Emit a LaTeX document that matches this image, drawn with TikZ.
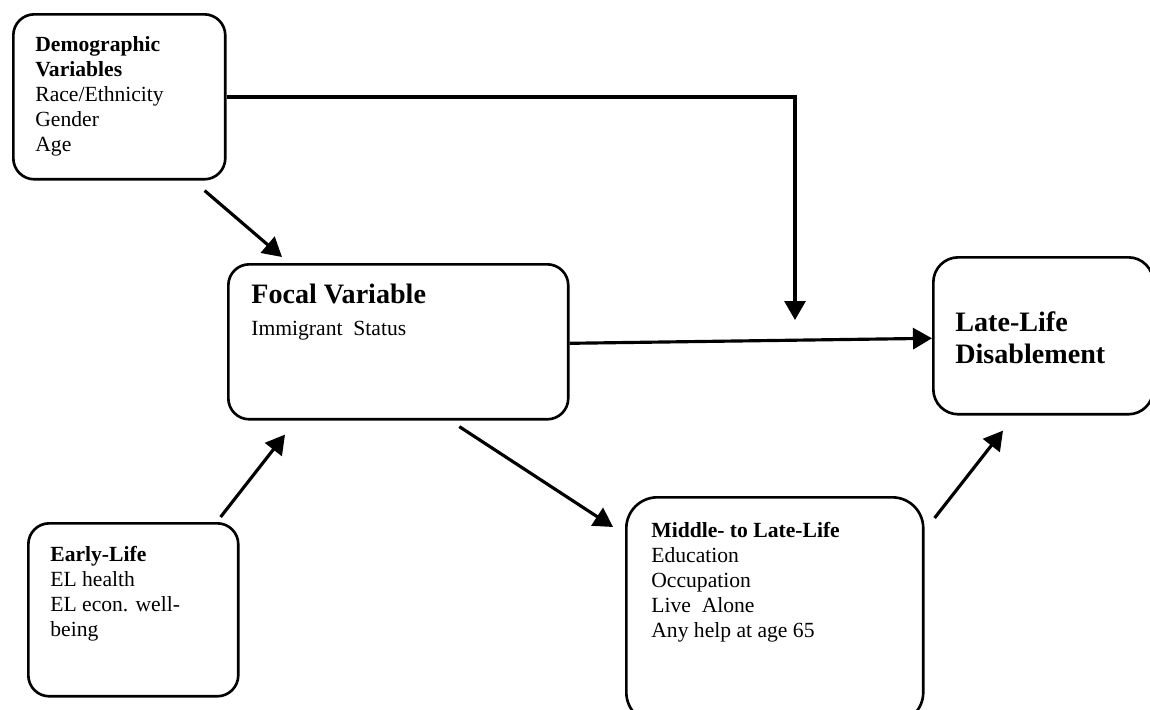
\documentclass[tikz,border=0pt]{standalone}
\usepackage{fontspec}
\setmainfont{Liberation Serif}
\usepackage{tikz}
\usetikzlibrary{
    calc,
    arrows.meta
}
\newcommand{\bigbold}{\fontsize{16}{18.2}\selectfont\bfseries}
\tikzset{
    box/.style={%
        draw, line width=1.5pt, rounded corners=0.42cm,
        anchor=north west, inner sep=0pt
    },
    boxtext/.style={%
        anchor=north west, inner sep=0pt, align=left,
        font=\fontsize{12.3}{14.2}\selectfont
    },
    link/.style={line width=1.8pt},
    >={Triangle[length=0.38cm,width=0.42cm]}
}

\begin{document}
\begin{tikzpicture}[x=0.02cm,y=-0.02cm]
        \useasboundingbox (0,0) rectangle (1150,710);

        % the five boxes
        \node[box, minimum width=4.24cm, minimum height=3.30cm] (demo)   at (12,13)   {};
        \node[box, minimum width=6.80cm, minimum height=3.10cm] (focal)  at (227,263) {};
        \node[box, minimum width=4.20cm, minimum height=3.46cm] (early)  at (27,522)  {};
        \node[box, minimum width=5.94cm, minimum height=4.52cm,
              rounded corners=0.62cm]                           (middle) at (625,496) {};
        \node[box, minimum width=4.40cm, minimum height=3.14cm,
              rounded corners=0.5cm]                            (late)   at (932,256) {};

        % what stands in them
        \node[boxtext] (demotxt) at ($(demo.north west)+(23,23)$)
            {\textbf{Demographic}\\\textbf{Variables}\\Race/Ethnicity\\Gender\\Age};
        \node[boxtext] (focaltxt) at ($(focal.north west)+(24,21)$)
            {{\bigbold Focal Variable}\\[4pt]Immigrant\ \ Status};
        \node[boxtext] (earlytxt) at ($(early.north west)+(23,24)$)
            {\textbf{Early-Life}\\EL health\\EL econ. well-\\being};
        \node[boxtext] (middletxt) at ($(middle.north west)+(26,26)$)
            {\textbf{Middle- to Late-Life}\\Education\\Occupation\\Live\ \ Alone\\Any help at age 65};
        \node[boxtext, font=\bigbold] (latetxt) at ($(late.north west)+(23,55)$)
            {Late-Life\\Disablement};

        \coordinate (drop) at (795,320);

        \draw[link,->] ($(demo.south east)+(-22,10)$) to ($(focal.north west)+(55,-6)$);
        \draw[link,->] ($(early.north east)+(-19,-5)$) to ($(focal.south west)+(58,14)$);
        \draw[link,->] ($(focal.east)+(0,1.5)$) to ($(late.west)+(0,2.5)$);
        \draw[link,->] (demo.east |- 0,97) -| (drop);
        \draw[link,->] ($(focal.south)+(61,6)$) to ($(middle.north west)+(-12,31)$);
        \draw[link,->] ($(middle.north east)+(10,22)$) to ($(late.south west)+(71,15)$);
    \end{tikzpicture}
\end{document}
